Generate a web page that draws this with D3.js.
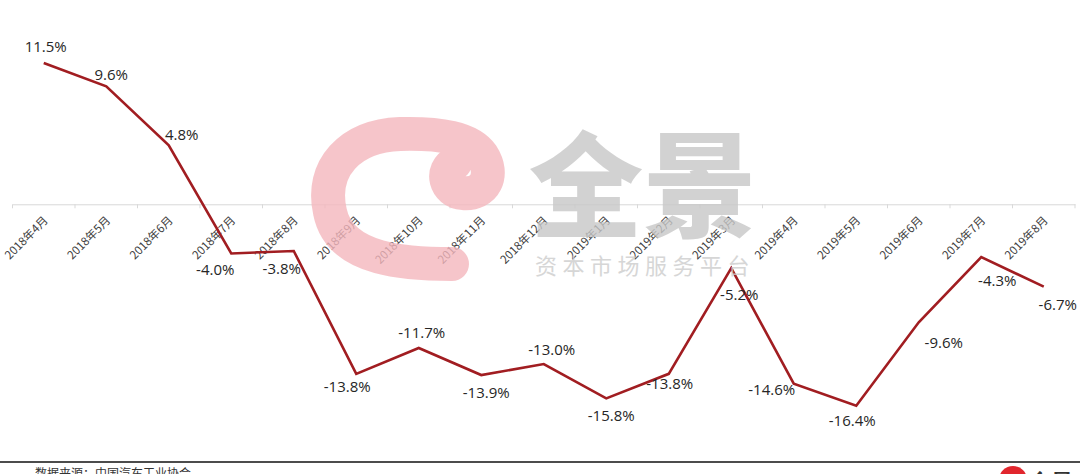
<!DOCTYPE html>
<html>
<head>
<meta charset="utf-8">
<script src="https://cdn.jsdelivr.net/npm/d3@7/dist/d3.min.js"></script>
<style>
  html, body { margin: 0; padding: 0; background: #fff; }
  svg { display: block; }
</style>
</head>
<body>
<svg id="chart" width="1080" height="474"></svg>
<script>
// ---- data ----
const categories = ["2018年4月","2018年5月","2018年6月","2018年7月","2018年8月","2018年9月","2018年10月","2018年11月","2018年12月",
                    "2019年1月","2019年2月","2019年3月","2019年4月","2019年5月","2019年6月","2019年7月","2019年8月"];
const growth = [11.5, 9.6, 4.8, -4.0, -3.8, -13.8, -11.7, -13.9, -13.0, -15.8, -13.8, -5.2, -14.6, -16.4, -9.6, -4.3, -6.7];
const valueLabels = ["11.5%","9.6%","4.8%","-4.0%","-3.8%","-13.8%","-11.7%","-13.9%","-13.0%","-15.8%","-13.8%","-5.2%","-14.6%","-16.4%","-9.6%","-4.3%","-6.7%"];
const sourceText = "数据来源：中国汽车工业协会";
const brandText = "全景";
const brandSub = "资本市场服务平台";

// label placement (offset of label centre from its point, px)
const labelOffsets = [[2,-16],[5,-12],[13,-11],[-16,16],[-12,18],[-9,13],[3,-15],[5,18],[8,-14],[5,17],[1,10],[8,27],[-22,6],[-4,15],[25,21],[16,24],[14,18]];

const svg = d3.select("#chart");
const W = 1080, H = 474;

const x = d3.scaleBand().domain(categories).range([12.5, 1075]).padding(0);
const y = d3.scaleLinear().domain([-20, 15]).range([450, 20]);
const cx = c => x(c) + x.bandwidth() / 2;

const chart = svg.append("g");

// axis line at zero
const axisG = chart.append("g").attr("transform", `translate(0,${y(0)})`);
axisG.call(d3.axisBottom(x).tickSize(0).tickSizeOuter(0).tickFormat(""));
axisG.select(".domain").attr("stroke", "#d9d9d9").attr("stroke-width", 1);
// boundary tick marks
const bounds = categories.map(c => x(c)).concat([x.range()[1]]);
axisG.selectAll("line.bt").data(bounds).enter().append("line")
  .attr("class", "bt")
  .attr("x1", d => d).attr("x2", d => d).attr("y1", 0).attr("y2", 4)
  .attr("stroke", "#d9d9d9").attr("stroke-width", 1);
// category labels
axisG.selectAll("text.cat").data(categories).enter().append("text")
  .attr("class", "cat")
  .attr("transform", d => `translate(${cx(d) + 2},${14}) rotate(-45)`)
  .attr("text-anchor", "end")
  .attr("dy", "0.35em")
  .attr("font-family", "'Noto Sans CJK SC', sans-serif")
  .attr("font-size", 11.5)
  .attr("fill", "#404040")
  .text(d => d);

// line
const pts = categories.map((c, i) => [cx(c), y(growth[i])]);
chart.append("path")
  .attr("d", d3.line()(pts))
  .attr("fill", "none")
  .attr("stroke", "#a11d21")
  .attr("stroke-width", 2.6)
  .attr("stroke-linejoin", "miter");

// data labels
chart.selectAll("text.val").data(categories).enter().append("text")
  .attr("class", "val")
  .attr("x", (c, i) => cx(c) + labelOffsets[i][0])
  .attr("y", (c, i) => y(growth[i]) + labelOffsets[i][1])
  .attr("dy", "0.35em")
  .attr("text-anchor", "middle")
  .attr("font-family", "'Open Sans', 'Noto Sans', sans-serif")
  .attr("font-size", 15)
  .attr("fill", "#262626")
  .text((c, i) => valueLabels[i]);

// watermark (on top, translucent)
const wm = svg.append("g").attr("opacity", 0.8);
wm.append("path")
  .attr("d", "M 452 264 C 410 264, 340 262, 330 212 C 320 168, 350 136, 400 134 C 440 133, 470 138, 482 155 C 495 175, 485 195, 463 193 C 445 192, 440 170, 455 163")
  .attr("fill", "none")
  .attr("stroke", "#f4b6bd")
  .attr("stroke-width", 34)
  .attr("stroke-linecap", "round");
wm.append("text")
  .attr("x", 529).attr("y", 228)
  .attr("font-family", "'Noto Sans CJK SC', sans-serif")
  .attr("font-weight", 900)
  .attr("font-size", 114)
  .attr("letter-spacing", 0)
  .attr("fill", "#c8c8c8")
  .text(brandText);
wm.append("text")
  .attr("x", 535).attr("y", 274)
  .attr("font-family", "'Noto Sans CJK SC', sans-serif")
  .attr("font-size", 22)
  .attr("letter-spacing", 5.5)
  .attr("fill", "#cdcdcd")
  .text(brandSub);

// footer
svg.append("line")
  .attr("x1", 0).attr("x2", W).attr("y1", 462).attr("y2", 462)
  .attr("stroke", "#111").attr("stroke-width", 1.5);
svg.append("text")
  .attr("x", 35).attr("y", 478)
  .attr("font-family", "'Noto Sans CJK SC', sans-serif")
  .attr("font-size", 12)
  .attr("fill", "#333")
  .text(sourceText);
svg.append("circle")
  .attr("cx", 1013).attr("cy", 480).attr("r", 14)
  .attr("fill", "#e1262d");
svg.append("text")
  .attr("x", 1029).attr("y", 490)
  .attr("font-family", "'Noto Sans CJK SC', sans-serif")
  .attr("font-weight", 700)
  .attr("font-size", 22)
  .attr("fill", "#333")
  .text(brandText);
</script>
</body>
</html>
